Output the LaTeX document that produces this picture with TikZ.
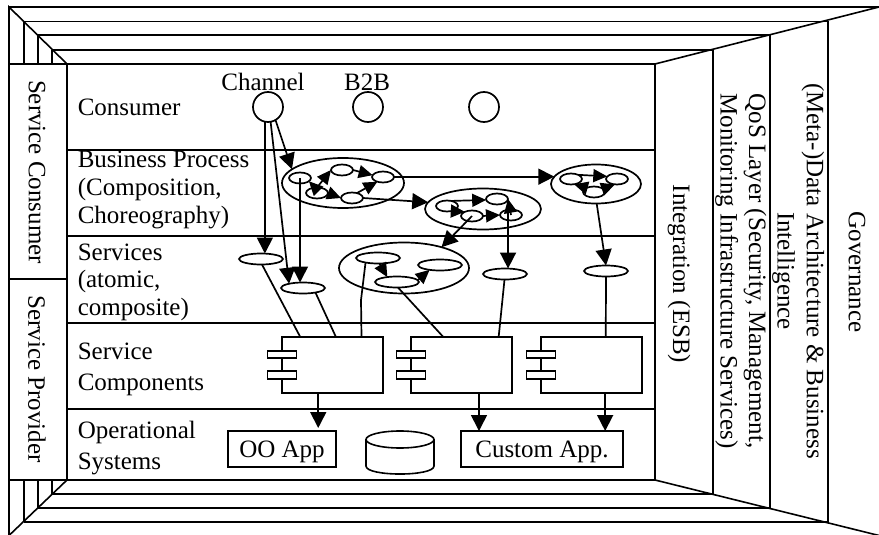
\documentclass[tikz,border=0pt]{standalone}
\usepackage{fontspec}
\setmainfont{Liberation Serif}
\usetikzlibrary{arrows.meta,shapes.geometric}
\tikzset{
  layertext/.style={align=left,anchor=west,inner sep=0pt,font=\fontsize{25}{27.6}\selectfont},
  sidetext/.style={rotate=-90,align=center,inner sep=0pt,font=\fontsize{25}{28.5}\selectfont},
  plainlabel/.style={inner sep=0pt,font=\fontsize{25}{27}\selectfont},
  bigoval/.style={draw,ellipse,line width=1.7pt,inner sep=0pt,outer sep=0pt},
  inoval/.style={draw,ellipse,line width=1.7pt,inner sep=0pt,outer sep=0pt,minimum width=22pt,minimum height=11pt},
  svcoval/.style={draw,ellipse,line width=1.7pt,fill=white,inner sep=0pt,outer sep=0pt,minimum width=44pt,minimum height=11pt},
  usecircle/.style={draw,circle,line width=1.7pt,minimum size=30pt,inner sep=0pt,outer sep=0pt},
  appbox/.style={draw,line width=1.7pt,inner sep=0pt,outer sep=0pt,minimum height=36pt,text depth=0pt,font=\fontsize{25}{27}\selectfont},
  comp/.style={draw,line width=1.7pt,minimum width=101pt,minimum height=56pt,inner sep=0pt,outer sep=0pt},
  port/.style={draw,line width=1.7pt,fill=white,minimum width=29pt,minimum height=7.5pt,inner sep=0pt},
  conn/.style={line width=1.7pt},
  arr/.style={line width=1.7pt,-{Triangle[length=16pt,width=16pt]}},
  arrs/.style={line width=1.7pt,-{Triangle[length=14pt,width=13pt]}},
}
\begin{document}
\begin{tikzpicture}[x=1pt,y=-1pt,line width=1.6pt]
  \useasboundingbox (0,0) rectangle (879,535);
  % frame in perspective
  \draw (9,7) -- (879,7) -- (655,64) -- (655,480) -- (879,535.5);
  \draw (9,535.5) -- (9,7) -- (67,64) -- (67,480) -- (9,535.5);
  \draw (9,64) -- (655,64) (9,480) -- (655,480);
  \draw (9,279) -- (67,279);
  \foreach \l/\r/\t/\b in {24/828/21.5/522,38/770/35/508,52/713/50/494}{
    \draw (\l,\t) -- (\r,\t) -- (\r,\b) -- (\l,\b);
    \draw (\l,\t) -- (\l,64) (\l,480) -- (\l,\b);
  }
  \foreach \y in {150,236,323,409}{\draw (67,\y) -- (655,\y);}
  % side columns
  \node[sidetext] (consumerside) at (37,172) {Service Consumer};
  \node[sidetext] (providerside) at (37,379) {Service Provider};
  \node[sidetext] (esb) at (679,274) {Integration (ESB)};
  \node[sidetext] (qos) at (755,271) {Intelligence\\QoS Layer (Security, Management,\\Monitoring Infrastructure Services)};
  \node[sidetext] (meta) at (813,271) {(Meta-)Data Architecture \& Business};
  \node[sidetext] (gov) at (857,272) {Governance};
  % layers
  \node[layertext] (consumer) at (77,107) {Consumer};
  \node[layertext] (process) at (77,190) {Business Process\\(Composition,\\Choreography)};
  \node[layertext] (services) at (77,282) {Services\\(atomic,\\composite)};
  \node[layertext] (components) at (77,369) {Service\\[3.4pt]Components};
  \node[layertext] (opsys) at (77,448) {Operational\\[3.4pt]Systems};
  % consumer
  \node[usecircle] (chan) at (268,107) {};
  \node[usecircle] (btob) at (368,107) {};
  \node[usecircle] (third) at (484,107) {};
  \node[plainlabel] (chanlabel) at (263,82) {Channel};
  \node[plainlabel] (btoblabel) at (367,82) {B2B};
  % process ovals
  \node[bigoval,minimum width=122pt,minimum height=50pt] (procA) at (343,183) {};
  \node[inoval] (a) at (300,178) {};
  \node[inoval] (b) at (342,170) {};
  \node[inoval] (c) at (383,177) {};
  \node[inoval] (d) at (317,193) {};
  \node[inoval] (e) at (352,198) {};
  \node[bigoval,minimum width=116pt,minimum height=41pt] (procB) at (483,209) {};
  \node[inoval] (f) at (447,206) {};
  \node[inoval] (g) at (497,199) {};
  \node[inoval] (h) at (472,216) {};
  \node[inoval] (i) at (511,215) {};
  \node[bigoval,minimum width=90pt,minimum height=39pt] (procC) at (596,184) {};
  \node[inoval] (j) at (571,179) {};
  \node[inoval] (k) at (617,179) {};
  \node[inoval] (l) at (594,192) {};
  % services
  \node[bigoval,minimum width=130pt,minimum height=51pt] (svcgroup) at (404,268) {};
  \node[svcoval] (m) at (378,258) {};
  \node[svcoval] (n) at (440,265) {};
  \node[svcoval] (o) at (397,282) {};
  \node[svcoval] (sA) at (261,259) {};
  \node[svcoval] (sB) at (303,288) {};
  \node[svcoval] (sC) at (505,274) {};
  \node[svcoval] (sD) at (606,271) {};
  % components
  \node[comp] (compA) at (332.5,365) {};
  \node[comp] (compB) at (461.5,365) {};
  \node[comp] (compC) at (591.5,365) {};
  \foreach \n/\x in {A/282,B/411,C/541}{
    \node[port] (port\n a) at (\x,354.5) {};
    \node[port] (port\n b) at (\x,375) {};
  }
  % systems
  \node[appbox,minimum width=108pt] (oo) at (282,449) {OO App};
  \node[appbox,minimum width=162pt] (custom) at (542,449) {Custom App.};
  \draw (400,439.5) ellipse (34 and 8.5);
  \draw (366,439.5) -- (366,466) .. controls (366,476.7) and (434,476.7) .. (434,466) -- (434,439.5);
  % channel arrows
  \draw[arr] (chan.258.5) -- (chan.258.5 |- sA.north);
  \draw[arr] (chan.280) -- (sB.163);
  \draw[arr] (chan.300) -- (procA.165);
  % process A
  \draw[arrs] (d.110) -- (a.340);
  \draw[arrs] (d.north) -- (b.west);
  \draw[arrs] (b.east) -- (c.170);
  \draw[arrs] (d.east) -- (e.west);
  \draw[arrs] (e.45) -- (c.220);
  \draw[arr] (a.center) -- (a.center |- sB.north);
  \draw[arr] (procC.170 -| c.east) -- (procC.170);
  \draw[arr] (e.east) -- (procB.173);
  % process B
  \draw[arrs] (f.50) -- (g.185);
  \draw[arrs] (f.310) -- (h.150);
  \draw[arrs] (h.east) -- (i.west);
  \draw[arrs] (i.center) -- (g.east);
  \draw[arr] (i.119.5) -- (i.119.5 |- sC.north);
  \draw[arr] (h.center) -- (svcgroup.29);
  % process C
  \draw[arrs] (j.30) -- (k.165);
  \draw[arrs] (l.150) -- (j.300);
  \draw[arrs] (l.20) -- (k.250);
  \draw[arr] (procC.272) -- (sD.north);
  % service group
  \draw[arrs] (m.285) -- (o.153);
  \draw[arrs] (o.5) -- (n.205);
  % services to components
  \coordinate (elbow) at (361,300);
  \draw[conn] (sA.280) -- (compA.139);
  \draw[conn] (sB.340) -- (compA.83);
  \draw[conn] (m.200) -- (elbow) -- (compA.44);
  \draw[conn] (o.280) -- (compB.123);
  \draw[conn] (sC.265) -- (compB.37);
  \draw[conn] (sD.south) -- (compC.63);
  % components to systems
  \draw[arr,shorten >=3pt] (compA.243) -- (compA.243 |- oo.north);
  \draw[arr] (compB.302) -- (compB.302 |- custom.north);
  \draw[arr] (compC.296) -- (compC.296 |- custom.north);
\end{tikzpicture}
\end{document}
